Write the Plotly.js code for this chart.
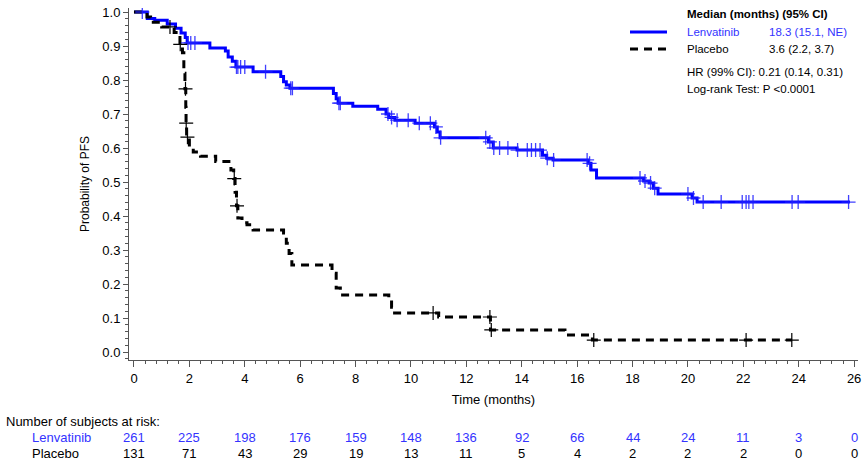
<!DOCTYPE html>
<html>
<head>
<meta charset="utf-8">
<script src="https://cdn.plot.ly/plotly-3.0.1.min.js"></script>
<style>html,body{margin:0;padding:0;background:#fff;}#chart{width:868px;height:464px;}</style>
</head>
<body>
<div id="chart"></div>
<script>
// ---- Data ----
var lenvTime = [0, 0.48, 0.75, 1.2, 1.5, 1.7, 1.85, 1.92, 2.74, 3.3, 3.4, 3.55, 3.68, 4.3, 5.3, 5.4, 5.5, 5.63, 7.2, 7.3, 7.37, 7.9, 8.8, 9.1, 9.2, 9.42, 10.15, 10.85, 10.95, 11.05, 12.8, 12.97, 13.83, 14.75, 14.9, 15.13, 16.4, 16.5, 16.7, 18.4, 18.6, 18.75, 18.92, 20.15, 20.33, 25.85];
var lenvSurv = [1.0, 0.981, 0.976, 0.965, 0.952, 0.938, 0.925, 0.909, 0.894, 0.885, 0.868, 0.855, 0.838, 0.824, 0.81, 0.795, 0.785, 0.776, 0.76, 0.745, 0.732, 0.723, 0.714, 0.70, 0.69, 0.682, 0.673, 0.662, 0.647, 0.63, 0.618, 0.60, 0.594, 0.579, 0.57, 0.565, 0.555, 0.535, 0.512, 0.503, 0.497, 0.482, 0.465, 0.453, 0.441, 0.441];
var lenvCensor = [0.3, 1.95, 2.05, 2.2, 3.7, 3.75, 3.85, 4.0, 4.75, 5.66, 5.72, 7.4, 7.45, 9.17, 9.3, 9.5, 9.9, 10.3, 10.7, 10.9, 11.07, 12.7, 12.85, 12.99, 13.2, 13.5, 13.85, 14.2, 14.35, 14.5, 14.66, 14.92, 15.15, 16.36, 16.45, 18.27, 18.45, 18.65, 18.8, 20.0, 20.2, 20.55, 21.2, 21.96, 22.1, 22.2, 22.35, 23.76, 23.98, 25.8];

var placTime = [0, 0.47, 0.6, 1.0, 1.45, 1.6, 1.66, 1.75, 1.8, 1.84, 1.87, 1.88, 1.9, 2.0, 2.14, 2.4, 2.95, 3.5, 3.6, 3.65, 3.7, 3.75, 3.9, 4.08, 4.3, 5.4, 5.5, 5.6, 5.7, 7.15, 7.3, 7.45, 9.2, 9.3, 9.35, 11.0, 12.87, 15.56, 16.55, 23.76];
var placSurv = [1.0, 0.985, 0.97, 0.956, 0.94, 0.925, 0.905, 0.88, 0.82, 0.774, 0.72, 0.673, 0.632, 0.60, 0.588, 0.576, 0.56, 0.535, 0.51, 0.47, 0.43, 0.394, 0.38, 0.374, 0.359, 0.35, 0.32, 0.29, 0.256, 0.232, 0.188, 0.168, 0.153, 0.132, 0.115, 0.103, 0.065, 0.05, 0.035, 0.035];
var placCensor = [1.3, 1.67, 1.86, 1.885, 1.93, 3.62, 3.72, 10.8, 12.85, 12.9, 16.6, 22.1, 23.75];

var riskTimes = [0, 2, 4, 6, 8, 10, 12, 14, 16, 18, 20, 22, 24, 26];
var lenvRisk = [261, 225, 198, 176, 159, 148, 136, 92, 66, 44, 24, 11, 3, 0];
var placRisk = [131, 71, 43, 29, 19, 13, 11, 5, 4, 2, 2, 2, 0, 0];

var groupNames = ["Lenvatinib", "Placebo"];
var medians = ["18.3 (15.1, NE)", "3.6 (2.2, 3.7)"];
var legendHeader = "Median (months) (95% CI)";
var hrText = "HR (99% CI): 0.21 (0.14, 0.31)";
var logrankText = "Log-rank Test: P <0.0001";

// ---- helpers ----
function stepAt(times, surv, c) {
  var v = surv[0];
  for (var i = 0; i < times.length; i++) { if (times[i] <= c) v = surv[i]; }
  return v;
}
var BLUE = "#0000ff";
var BLUE_TXT = "#3333ff";
var FONT = "Liberation Sans, Arial, sans-serif";
var LEG_SIZE = 11.5;

var traces = [
  {x: lenvTime, y: lenvSurv, mode: "lines", line: {shape: "hv", color: BLUE, width: 3}, showlegend: false, hoverinfo: "skip"},
  {x: placTime, y: placSurv, mode: "lines", line: {shape: "hv", color: "#000", width: 3, dash: "8px,6px"}, showlegend: false, hoverinfo: "skip"},
  {x: lenvCensor, y: lenvCensor.map(function(c){return stepAt(lenvTime, lenvSurv, c);}), mode: "markers",
   marker: {symbol: "cross-thin", size: 10, line: {width: 1.3, color: "rgba(30,30,255,0.85)"}}, showlegend: false, hoverinfo: "skip"},
  {x: placCensor, y: placCensor.map(function(c){return stepAt(placTime, placSurv, c);}), mode: "markers",
   marker: {symbol: "cross-thin", size: 10, line: {width: 1.2, color: "#000"}}, showlegend: false, hoverinfo: "skip"}
];

// layout geometry in px
var L = 129, R = 10, T = 8, B = 104, W = 868, H = 464;
var pw = W - L - R, ph = H - T - B;
function px2paperX(px){ return (px - L) / pw; }
function px2paperY(py){ return (H - B - py) / ph; }

var ann = [];
// legend text
ann.push({xref:"paper", yref:"paper", x: px2paperX(685), y: px2paperY(14), xanchor:"left", yanchor:"middle", showarrow:false, text:"<b>"+legendHeader+"</b>", font:{family:FONT, size:LEG_SIZE, color:"#000"}});
ann.push({xref:"paper", yref:"paper", x: px2paperX(685), y: px2paperY(32), xanchor:"left", yanchor:"middle", showarrow:false, text:groupNames[0], font:{family:FONT, size:LEG_SIZE, color:BLUE_TXT}});
ann.push({xref:"paper", yref:"paper", x: px2paperX(767), y: px2paperY(32), xanchor:"left", yanchor:"middle", showarrow:false, text:medians[0], font:{family:FONT, size:LEG_SIZE, color:BLUE_TXT}});
ann.push({xref:"paper", yref:"paper", x: px2paperX(685), y: px2paperY(49), xanchor:"left", yanchor:"middle", showarrow:false, text:groupNames[1], font:{family:FONT, size:LEG_SIZE, color:"#000"}});
ann.push({xref:"paper", yref:"paper", x: px2paperX(767), y: px2paperY(49), xanchor:"left", yanchor:"middle", showarrow:false, text:medians[1], font:{family:FONT, size:LEG_SIZE, color:"#000"}});
ann.push({xref:"paper", yref:"paper", x: px2paperX(685), y: px2paperY(72), xanchor:"left", yanchor:"middle", showarrow:false, text:hrText, font:{family:FONT, size:LEG_SIZE, color:"#000"}});
ann.push({xref:"paper", yref:"paper", x: px2paperX(685), y: px2paperY(89), xanchor:"left", yanchor:"middle", showarrow:false, text:logrankText, font:{family:FONT, size:LEG_SIZE, color:"#000"}});
// at-risk table
ann.push({xref:"paper", yref:"paper", x: px2paperX(4), y: px2paperY(421), xanchor:"left", yanchor:"middle", showarrow:false, text:"Number of subjects at risk:", font:{family:FONT, size:13, color:"#000"}});
ann.push({xref:"paper", yref:"paper", x: px2paperX(30), y: px2paperY(437), xanchor:"left", yanchor:"middle", showarrow:false, text:groupNames[0], font:{family:FONT, size:13, color:BLUE_TXT}});
ann.push({xref:"paper", yref:"paper", x: px2paperX(30), y: px2paperY(453), xanchor:"left", yanchor:"middle", showarrow:false, text:groupNames[1], font:{family:FONT, size:13, color:"#000"}});
riskTimes.forEach(function(t, i){
  ann.push({xref:"x", yref:"paper", x: t, y: px2paperY(437), xanchor:"center", yanchor:"middle", showarrow:false, text:String(lenvRisk[i]), font:{family:FONT, size:13, color:BLUE_TXT}});
  ann.push({xref:"x", yref:"paper", x: t, y: px2paperY(453), xanchor:"center", yanchor:"middle", showarrow:false, text:String(placRisk[i]), font:{family:FONT, size:13, color:"#000"}});
});

var shapes = [
  {type:"line", xref:"paper", yref:"paper", x0: px2paperX(630), x1: px2paperX(667), y0: px2paperY(32), y1: px2paperY(32), line:{color:BLUE, width:3}},
  {type:"line", xref:"paper", yref:"paper", x0: px2paperX(630), x1: px2paperX(667), y0: px2paperY(49), y1: px2paperY(49), line:{color:"#000", width:3, dash:"8px,6px"}}
];

var layout = {
  width: W, height: H,
  margin: {l: L, r: R, t: T, b: B, pad: 0},
  paper_bgcolor: "#fff", plot_bgcolor: "#fff",
  font: {family: FONT, size: 13, color: "#000"},
  xaxis: {
    range: [-0.18, 26.14], tickmode: "array", tickvals: riskTimes, ticktext: riskTimes.map(String),
    showgrid: false, zeroline: false, showline: true, linecolor: "#555", linewidth: 1,
    ticks: "outside", ticklen: 6, tickcolor: "#555", tickfont: {family: FONT, size: 13, color: "#000"},
    minor: {dtick: 0.4, tick0: 0, ticks: "outside", ticklen: 3, tickcolor: "#555", showgrid: false},
    title: {text: "Time (months)", font: {family: FONT, size: 13, color: "#000"}, standoff: 10},
    automargin: false, fixedrange: true
  },
  yaxis: {
    range: [-0.0235, 1.0118], tickmode: "linear", tick0: 0, dtick: 0.1, tickformat: ".1f",
    showgrid: false, zeroline: false, showline: true, linecolor: "#555", linewidth: 1,
    ticks: "outside", ticklen: 5, tickcolor: "#555", tickfont: {family: FONT, size: 13, color: "#000"},
    minor: {dtick: 0.02, tick0: 0, ticks: "outside", ticklen: 3, tickcolor: "#555", showgrid: false},
    title: {text: "Probability of PFS", font: {family: FONT, size: 12, color: "#000"}, standoff: 10},
    automargin: false, fixedrange: true
  },
  annotations: ann,
  shapes: shapes,
  showlegend: false
};

Plotly.newPlot("chart", traces, layout, {displayModeBar: false, staticPlot: true});
</script>
</body>
</html>
